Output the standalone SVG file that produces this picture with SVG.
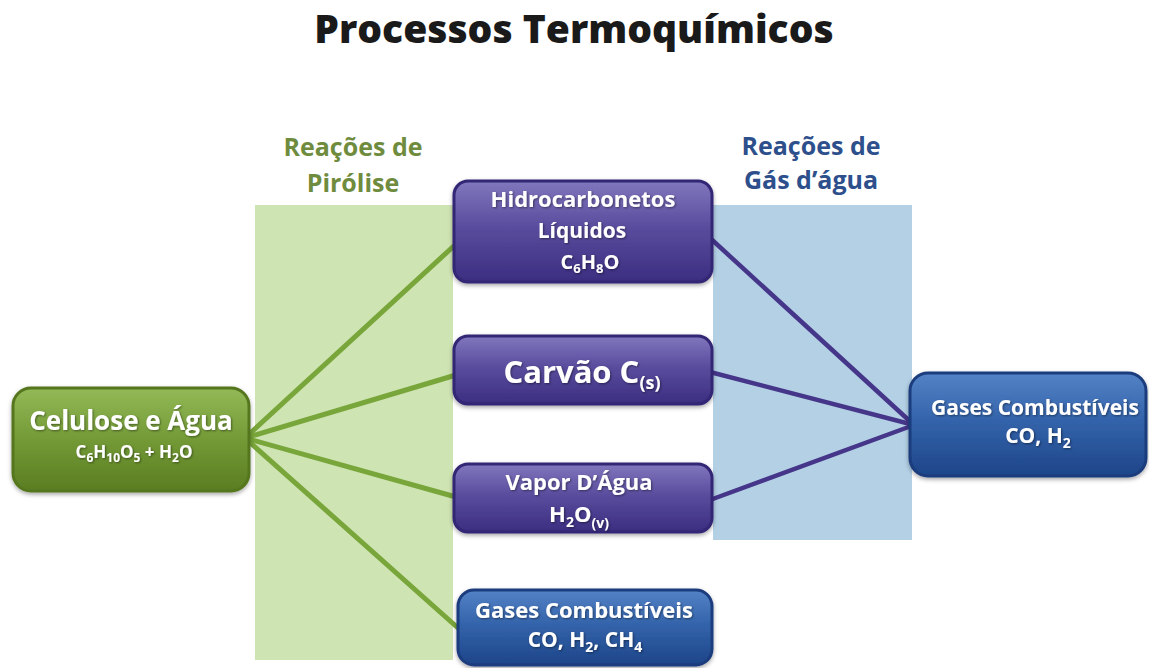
<svg xmlns="http://www.w3.org/2000/svg" width="1149" height="668" viewBox="0 0 1149 668">
<defs>
<linearGradient id="gGreen" x1="0" y1="0" x2="0" y2="1">
<stop offset="0" stop-color="#93b957"/>
<stop offset="0.5" stop-color="#739a36"/>
<stop offset="1" stop-color="#5a7d22"/>
</linearGradient>
<linearGradient id="gPurple" x1="0" y1="0" x2="0" y2="1">
<stop offset="0" stop-color="#8077bd"/>
<stop offset="0.45" stop-color="#5a4d9e"/>
<stop offset="1" stop-color="#3b2d80"/>
</linearGradient>
<linearGradient id="gBlue" x1="0" y1="0" x2="0" y2="1">
<stop offset="0" stop-color="#5482c6"/>
<stop offset="0.45" stop-color="#3464ab"/>
<stop offset="1" stop-color="#1d4589"/>
</linearGradient>
<filter id="shadow" x="-10%" y="-10%" width="120%" height="130%">
<feDropShadow dx="0" dy="2" stdDeviation="2" flood-color="#000" flood-opacity="0.35"/>
</filter>
<filter id="tshadow" x="-5%" y="-20%" width="110%" height="140%">
<feDropShadow dx="1" dy="1" stdDeviation="1" flood-color="#000" flood-opacity="0.45"/>
</filter>
</defs>
<style>
text{font-family:"Open Sans","Noto Sans","Liberation Sans",sans-serif;font-weight:700;text-anchor:middle}
.title{font-size:39px;fill:#1a1a1a;font-weight:800}
.lblG{font-size:25px;fill:#6f8b3d}
.lblB{font-size:25px;fill:#2d4f8c}
.w{fill:#ffffff;filter:url(#tshadow)}
.boxG{fill:url(#gGreen);stroke:#55761f;stroke-width:3;filter:url(#shadow)}
.boxP{fill:url(#gPurple);stroke:#302674;stroke-width:3;filter:url(#shadow)}
.boxB{fill:url(#gBlue);stroke:#1b3c7d;stroke-width:3;filter:url(#shadow)}
.lg{stroke:#79a63a;stroke-width:5;stroke-linecap:round;fill:none}
.lp{stroke:#46368a;stroke-width:4.5;stroke-linecap:round;fill:none}
</style>
<rect width="1149" height="668" fill="#ffffff"/>
<text class="title" x="574" y="43">Processos Termoquímicos</text>
<g id="bands">
<rect x="255" y="205" width="198" height="455" fill="#cfe4b3"/>
<rect x="713" y="205" width="199" height="335" fill="#b3d0e5"/>
</g>
<text class="lblG" x="353" y="156">Reações de</text>
<text class="lblG" x="353" y="192">Pirólise</text>
<text class="lblB" x="811" y="155">Reações de</text>
<text class="lblB" x="811" y="189">Gás d’água</text>
<g id="connectors">
<line class="lg" x1="245" y1="438" x2="456" y2="244"/>
<line class="lg" x1="245" y1="438" x2="456" y2="375"/>
<line class="lg" x1="245" y1="438" x2="456" y2="497"/>
<line class="lg" x1="245" y1="438" x2="458" y2="628"/>
<line class="lp" x1="710" y1="238" x2="914" y2="425"/>
<line class="lp" x1="710" y1="372" x2="914" y2="425"/>
<line class="lp" x1="710" y1="500" x2="914" y2="425"/>
</g>
<g id="celulose">
<rect class="boxG" x="13" y="388" width="236" height="103" rx="18"/>
<text class="w" x="131" y="430" font-size="26">Celulose e Água</text>
<text class="w" x="134" y="458" font-size="17">C<tspan font-size="12" dy="4">6</tspan><tspan dy="-4">H</tspan><tspan font-size="12" dy="4">10</tspan><tspan dy="-4">O</tspan><tspan font-size="12" dy="4">5</tspan><tspan dy="-4"> + H</tspan><tspan font-size="12" dy="4">2</tspan><tspan dy="-4">O</tspan></text>
</g>
<g id="hidrocarbonetos">
<rect class="boxP" x="454" y="181" width="258" height="101" rx="14"/>
<text class="w" x="583" y="207" font-size="22">Hidrocarbonetos</text>
<text class="w" x="582" y="238" font-size="21">Líquidos</text>
<text class="w" x="590" y="269" font-size="20">C<tspan font-size="13" dy="4">6</tspan><tspan dy="-4">H</tspan><tspan font-size="13" dy="4">8</tspan><tspan dy="-4">O</tspan></text>
</g>
<g id="carvao">
<rect class="boxP" x="454" y="336" width="258" height="68" rx="14"/>
<text class="w" x="582" y="383" font-size="31">Carvão C<tspan font-size="18" dy="6">(s)</tspan></text>
</g>
<g id="vapor">
<rect class="boxP" x="454" y="464" width="258" height="68" rx="14"/>
<text class="w" x="579" y="490" font-size="22">Vapor D’Água</text>
<text class="w" x="579" y="522" font-size="22">H<tspan font-size="14" dy="5">2</tspan><tspan dy="-5">O</tspan><tspan font-size="14" dy="6">(v)</tspan></text>
</g>
<g id="gases1">
<rect class="boxB" x="458" y="590" width="254" height="75" rx="16"/>
<text class="w" x="584" y="618" font-size="22">Gases Combustíveis</text>
<text class="w" x="585" y="647" font-size="21">CO, H<tspan font-size="14" dy="5">2</tspan><tspan dy="-5">, CH</tspan><tspan font-size="14" dy="5">4</tspan></text>
</g>
<g id="gases2">
<rect class="boxB" x="910" y="373" width="236" height="103" rx="18"/>
<text class="w" x="1035" y="415" font-size="21">Gases Combustíveis</text>
<text class="w" x="1038" y="443" font-size="21">CO, H<tspan font-size="14" dy="5">2</tspan></text>
</g>
</svg>
